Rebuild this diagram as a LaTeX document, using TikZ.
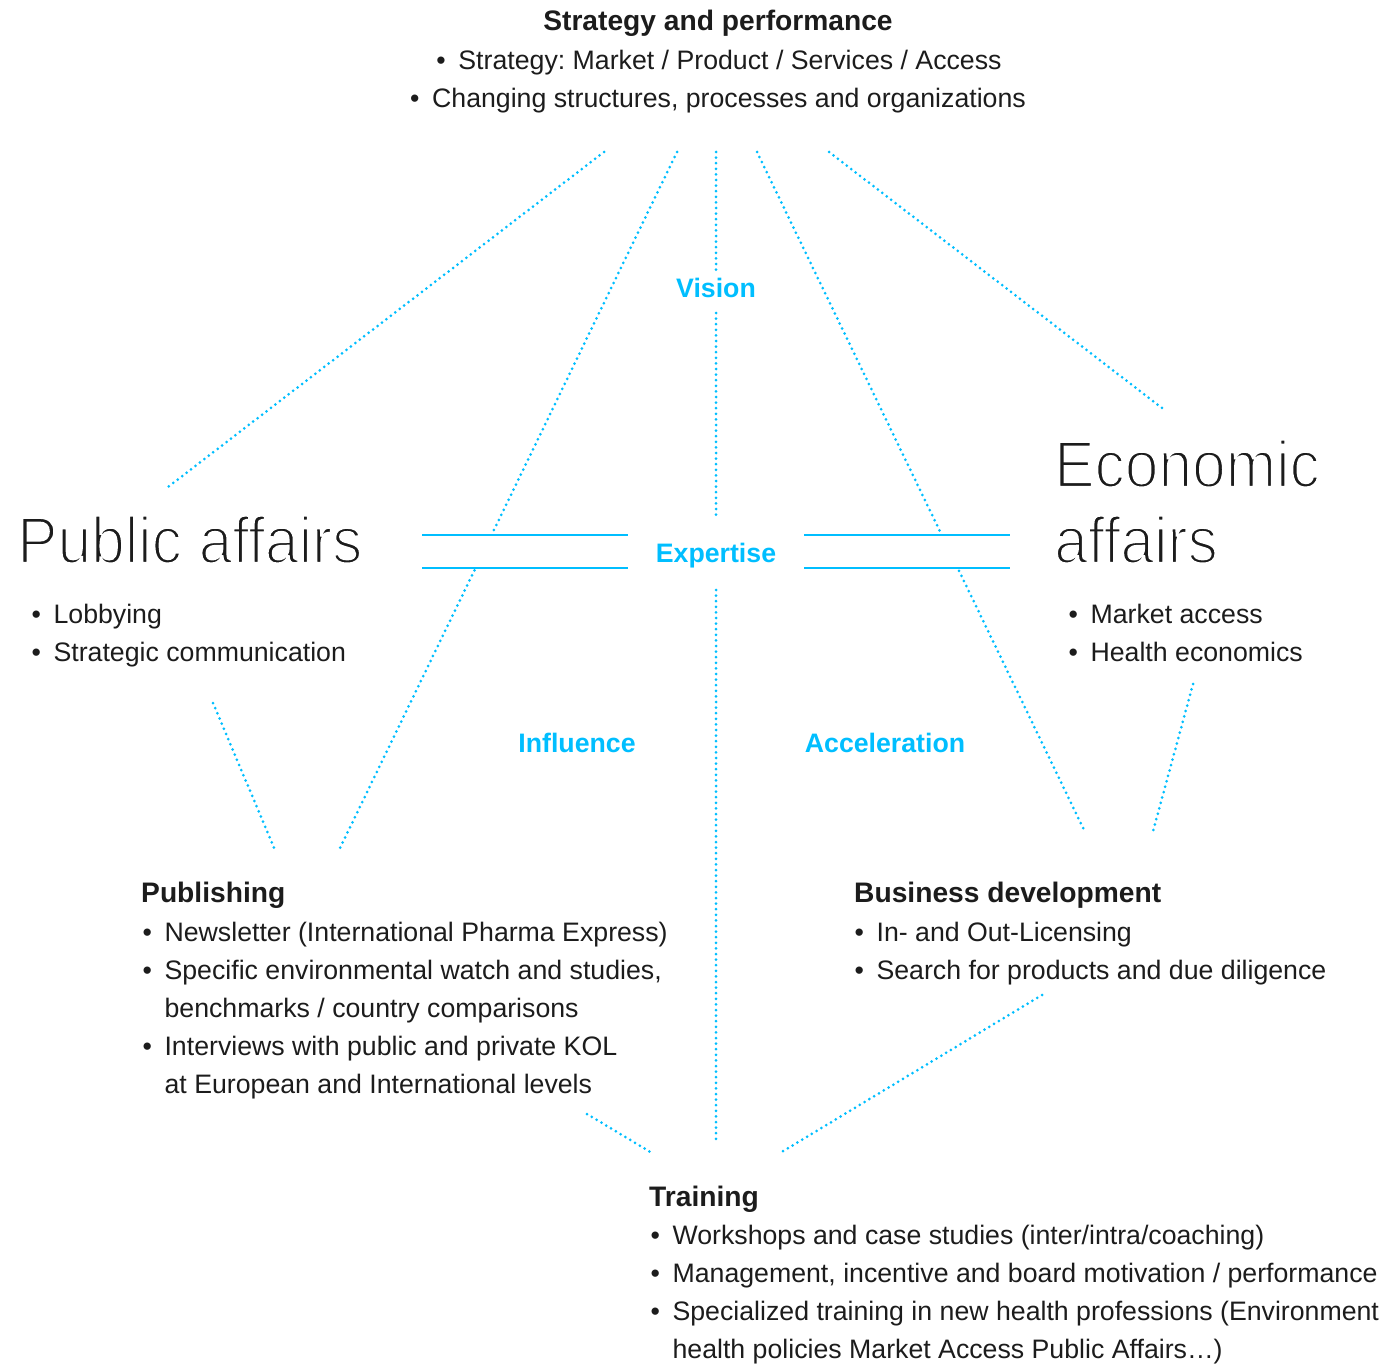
\documentclass[tikz,border=0pt]{standalone}
\usepackage{fontspec}
\setmainfont{Liberation Sans}
\newfontfamily\titlefont{Liberation Sans}[FakeStretch=0.92]
\usetikzlibrary{calc}
\definecolor{skyb}{RGB}{0,190,255}
\definecolor{ink}{RGB}{28,28,28}
\newcommand\bul{\makebox[22bp][l]{•}}
\newcommand\thinned[1]{\special{pdf:code q 2 Tr 1 1 1 RG 2.3 w}#1\special{pdf:code Q}}
\begin{document}
\frenchspacing
\begin{tikzpicture}[x=1bp,y=-1bp,
  dotline/.style={draw=skyb, line width=3bp, line cap=round, dash pattern=on 0bp off 5.6bp},
  barline/.style={draw=skyb, line width=2.4bp},
  body/.style={inner sep=0pt, anchor=base west, text=ink, font=\fontsize{26.8}{38}\selectfont\frenchspacing},
  bodyc/.style={body, anchor=base},
  head/.style={body, font=\fontsize{28.3}{38}\selectfont\bfseries},
  headc/.style={head, anchor=base},
  blue/.style={inner sep=0pt, anchor=base, text=skyb, font=\fontsize{26.8}{38}\selectfont\bfseries},
  big/.style={inner sep=0pt, anchor=base west, text=ink, font=\titlefont\fontsize{66}{77}\selectfont}
]
\useasboundingbox (0,0) rectangle (1383,1364);

% ---------- texts ----------
\node[headc] (sp) at (718,31) {Strategy and performance};
\node[bodyc] (sp1) at (719,70) {\bul Strategy: Market / Product / Services / Access};
\node[bodyc] (sp2) at (718,108) {\bul Changing structures, processes and organizations};

\node[blue] (vision) at (716,297) {Vision};
\node[blue] (expertise) at (716,562) {Expertise};
\node[blue] (influence) at (577,752) {Influence};
\node[blue] (accel) at (885,752) {Acceleration};

\node[big] (pa) at (17,563) {\thinned{Public affairs}};
\node[body] (pa1) at (31.4,623) {\bul Lobbying};
\node[body] (pa2) at (31.4,661) {\bul Strategic communication};

\node[big] (ea1) at (1054,487) {\thinned{Economic}};
\node[big] (ea2) at (1054,563) {\thinned{affairs}};
\node[body] (ea3) at (1068.4,623) {\bul Market access};
\node[body] (ea4) at (1068.4,661) {\bul Health economics};

\node[head] (pub) at (141,902) {Publishing};
\node[body] (pub1) at (142.4,941) {\bul Newsletter (International Pharma Express)};
\node[body] (pub2) at (142.4,979) {\bul Specific environmental watch and studies,};
\node[body] (pub3) at (142.4,1017) {\hspace{22bp}benchmarks / country comparisons};
\node[body] (pub4) at (142.4,1055) {\bul Interviews with public and private KOL};
\node[body] (pub5) at (142.4,1093) {\hspace{22bp}at European and International levels};

\node[head] (bd) at (854,902) {Business development};
\node[body] (bd1) at (854.4,941) {\bul In- and Out-Licensing};
\node[body] (bd2) at (854.4,979) {\bul Search for products and due diligence};

\node[head] (tr) at (649,1206) {Training};
\node[body] (tr1) at (650.4,1244) {\bul Workshops and case studies (inter/intra/coaching)};
\node[body] (tr2) at (650.4,1282) {\bul Management, incentive and board motivation / performance};
\node[body] (tr3) at (650.4,1320) {\bul Specialized training in new health professions (Environment};
\node[body] (tr4) at (650.4,1358) {\hspace{22bp}health policies Market Access Public Affairs…)};

% ---------- connector end points ----------
\coordinate (t1) at (604,152);  \coordinate (l1) at (168,487);
\coordinate (t2) at (677,152);  \coordinate (b2) at (340,848);
\coordinate (t3) at (716,152);  \coordinate (b3) at (716,1140);
\coordinate (t4) at (757,152);  \coordinate (b4) at (1085,832);
\coordinate (t5) at (829,152);  \coordinate (r5) at (1162,408);
\coordinate (p6) at (213,703);  \coordinate (q6) at (275,850);
\coordinate (p7) at (1193,684); \coordinate (q7) at (1152,835);
\coordinate (p8) at (587,1114); \coordinate (q8) at (652,1153);
\coordinate (p9) at (1042,995); \coordinate (q9) at (780,1153);

% horizontal bars
\coordinate (hl1) at (422,535); \coordinate (hl2) at (628,535);
\coordinate (hl3) at (422,568); \coordinate (hl4) at (628,568);
\coordinate (hr1) at (804,535); \coordinate (hr2) at (1010,535);
\coordinate (hr3) at (804,568); \coordinate (hr4) at (1010,568);

% split points of the crossing lines
\coordinate (s2a) at ($(t2)!0.546!(b2)$);
\coordinate (s2b) at ($(t2)!0.601!(b2)$);
\coordinate (s4a) at ($(t4)!0.560!(b4)$);
\coordinate (s4b) at ($(t4)!0.616!(b4)$);
\coordinate (v1) at (716,272); \coordinate (v2) at (716,313);
\coordinate (v3) at (716,515); \coordinate (v4) at (716,590);

% ---------- connectors ----------
\draw[barline] (hl1) -- (hl2);
\draw[barline] (hl3) -- (hl4);
\draw[barline] (hr1) -- (hr2);
\draw[barline] (hr3) -- (hr4);

\draw[dotline] (t1) -- (l1);
\draw[dotline] (t2) -- (s2a);
\draw[dotline] (s2b) -- (b2);
\draw[dotline] (t3) -- (v1);
\draw[dotline] (v2) -- (v3);
\draw[dotline] (v4) -- (b3);
\draw[dotline] (t4) -- (s4a);
\draw[dotline] (s4b) -- (b4);
\draw[dotline] (t5) -- (r5);
\draw[dotline] (p6) -- (q6);
\draw[dotline] (p7) -- (q7);
\draw[dotline] (p8) -- (q8);
\draw[dotline] (p9) -- (q9);
\end{tikzpicture}
\end{document}
